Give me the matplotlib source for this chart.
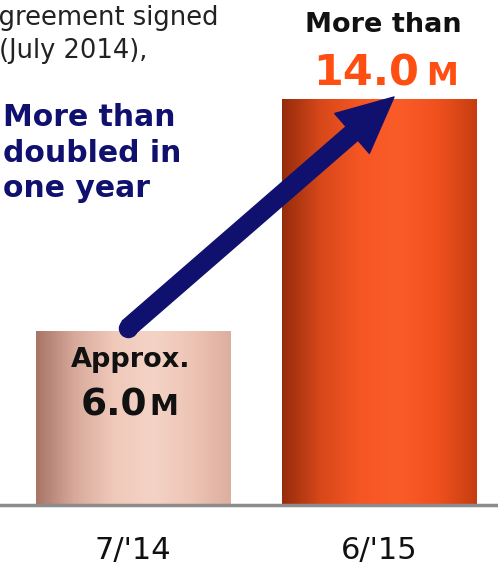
import numpy as np
import matplotlib
matplotlib.use("Agg")
import matplotlib.pyplot as plt
from matplotlib.colors import LinearSegmentedColormap

# --- data ---
periods = ["7/'14", "6/'15"]
values = [6.0, 14.0]
top_labels = ["Approx.", "More than"]
value_labels = ["6.0", "14.0"]
unit = "M"

W, H = 498, 565
navy = "#10106e"
orange = "#ff4e12"

fig = plt.figure(figsize=(W / 100, H / 100), dpi=100)
ax = fig.add_axes([0, 0, 1, 1])
ax.axis("off")

# pixel layout: baseline at y=505, 29 px per unit, bars 246 px apart
ppu = 29.0
ax.set_ylim(-(H - 505) / ppu, 505 / ppu)
ax.set_xlim(-133 / 246, (W - 133) / 246)

def fx(x):
    return x / W

def fy(y):
    return 1 - y / H

cmaps = [
    LinearSegmentedColormap.from_list("pink", ["#a87466", "#d8aa9c", "#f0c9ba", "#f4d3c6", "#eec5b5", "#dcae9f"]),
    LinearSegmentedColormap.from_list("orng", ["#962c0c", "#d8481a", "#f65624", "#fa5c28", "#f0501e", "#c63e10"]),
]
x = np.arange(len(values))
bars = ax.bar(x, values, width=0.79, color="none", zorder=2)
grad = np.linspace(0, 1, 256).reshape(1, -1)
for b, cm in zip(bars, cmaps):
    im = ax.imshow(grad, cmap=cm, aspect="auto", zorder=2,
                   extent=[b.get_x(), b.get_x() + b.get_width(), 0, b.get_height()])
    im.set_clip_path(b)

ax.axhline(0, color="#8c8c8c", lw=2.5, zorder=3)

# x labels
for i, p in enumerate(periods):
    ax.text(i, -(559 - 505) / ppu, p, ha="center", va="baseline",
            fontsize=22, color="#111111")

# value labels
fig.text(fx(131), fy(367), top_labels[0], ha="center", va="baseline",
         fontsize=19.5, fontweight="bold", color="#111111")
fig.text(fx(147), fy(415), value_labels[0], ha="right", va="baseline",
         fontsize=27, fontweight="bold", color="#111111")
fig.text(fx(149), fy(415), unit, ha="left", va="baseline",
         fontsize=21, fontweight="bold", color="#111111")

fig.text(fx(383), fy(32), top_labels[1], ha="center", va="baseline",
         fontsize=19.5, fontweight="bold", color="#111111")
fig.text(fx(419), fy(85), value_labels[1], ha="right", va="baseline",
         fontsize=31, fontweight="bold", color=orange)
fig.text(fx(426), fy(85), unit, ha="left", va="baseline",
         fontsize=23, fontweight="bold", color=orange)

# annotation text
for line, yb in zip(["More than", "doubled in", "one year"], [126, 162, 197]):
    fig.text(fx(3), fy(yb), line, ha="left", va="baseline",
             fontsize=21.5, fontweight="bold", color=navy)

fig.text(fx(218), fy(25), "Agreement signed", ha="right", va="baseline",
         fontsize=18.5, color="#222222")
fig.text(fx(147), fy(58), "(July 2014),", ha="right", va="baseline",
         fontsize=18.5, color="#222222")

# arrow
tail = ((128 - 133) / 246, (505 - 328) / ppu)
tip = ((394 - 133) / 246, (505 - 97) / ppu)
ax.annotate("", xy=tip, xytext=tail, zorder=5,
            arrowprops=dict(arrowstyle="simple,head_width=38,head_length=40,tail_width=13",
                            mutation_scale=1, color=navy, shrinkA=0, shrinkB=0))
ax.plot([tail[0]], [tail[1]], "o", ms=13, color=navy, zorder=5)

fig.savefig("out.png", dpi=100)
